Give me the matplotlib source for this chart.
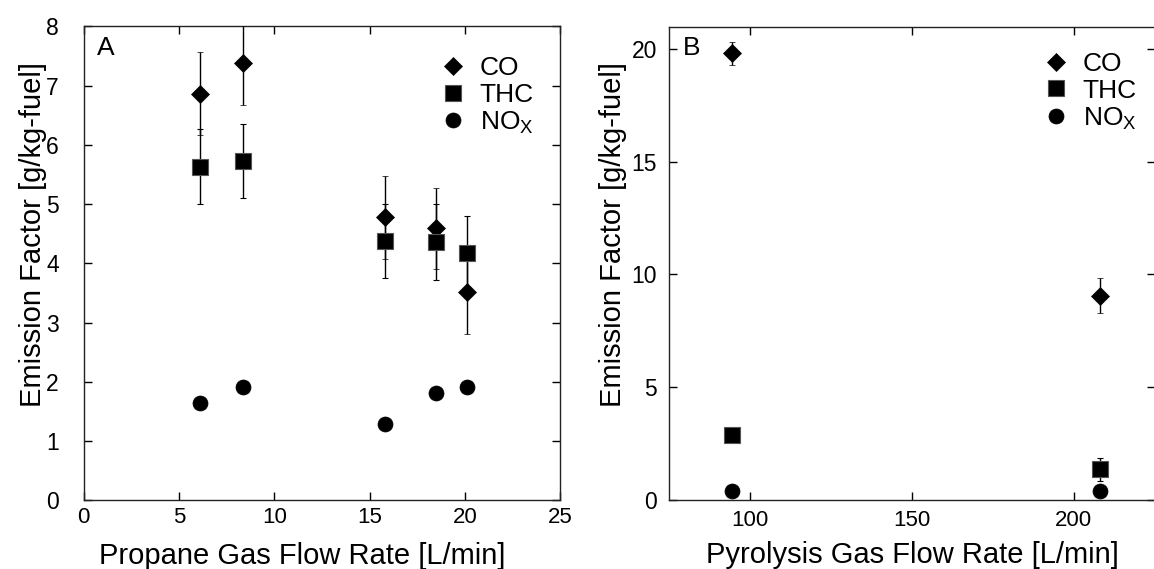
import matplotlib
matplotlib.use("Agg")
import matplotlib.pyplot as plt
from matplotlib.lines import Line2D

plt.rcParams['font.family'] = ['Liberation Sans', 'DejaVu Sans']
plt.rcParams['mathtext.fontset'] = 'custom'
plt.rcParams['mathtext.rm'] = 'Liberation Sans'
plt.rcParams['mathtext.it'] = 'Liberation Sans:italic'
plt.rcParams['mathtext.bf'] = 'Liberation Sans:bold'

# ---- Panel A data (propane) ----
propane_flow = [6.1, 8.35, 15.8, 18.5, 20.1]
co_a = [6.86, 7.38, 4.78, 4.59, 3.51]
co_a_err = [0.70, 0.71, 0.70, 0.69, 0.70]
thc_a = [5.63, 5.73, 4.38, 4.36, 4.17]
thc_a_err = [0.63, 0.62, 0.63, 0.64, 0.63]
nox_a = [1.64, 1.91, 1.29, 1.81, 1.91]

# ---- Panel B data (pyrolysis gas) ----
pyro_flow = [94.5, 208.0]
co_b = [19.81, 9.05]
co_b_err = [0.52, 0.77]
thc_b = [2.85, 1.34]
thc_b_err = [0.30, 0.52]
nox_b = [0.40, 0.40]

series_labels = ['CO', 'THC', r'NO$_\mathregular{X}$']
xticks_a = [0, 5, 10, 15, 20, 25]
yticks_a = [0, 1, 2, 3, 4, 5, 6, 7, 8]
xticks_b = [100, 150, 200]
yticks_b = [0, 5, 10, 15, 20]

fig = plt.figure(figsize=(11.54, 5.69), dpi=100)
ax1 = fig.add_axes([0.0725, 0.1204, 0.4129, 0.8334])
ax2 = fig.add_axes([0.5797, 0.1221, 0.4211, 0.8313])

XTICK_FS = 16
YTICK_FS = 16.5
LABEL_FS = 21
LEG_FS = 19

mk = dict(color='black', mfc='black', ls='none', ecolor='black',
          elinewidth=1.0, capsize=2.0, capthick=1.0)
diam = dict(marker='D', ms=8.8, mec='black', mew=0.5)
sq = dict(marker='s', ms=11.3, mec='#555555', mew=0.8)
circ = dict(marker='o', ms=10.8, mec='black', mew=0.5)


def style(ax, xpad, ypad):
    ax.tick_params(direction='in', length=6, width=1, top=True, right=True)
    ax.tick_params(axis='x', pad=xpad, labelsize=XTICK_FS)
    ax.tick_params(axis='y', pad=ypad, labelsize=YTICK_FS)
    for s in ax.spines.values():
        s.set_linewidth(1.0)
        s.set_color('#222222')


# Panel A
ax1.errorbar(propane_flow, co_a, yerr=co_a_err, **mk, **diam, zorder=3)
ax1.errorbar(propane_flow, thc_a, yerr=thc_a_err, **mk, **sq, zorder=3)
ax1.plot(propane_flow, nox_a, ls='none', color='black', **circ, zorder=3)
ax1.set_xlim(0, 25)
ax1.set_ylim(0, 8)
ax1.set_xticks(xticks_a)
ax1.set_yticks(yticks_a)
ax1.set_xlabel('Propane Gas Flow Rate [L/min]', fontsize=LABEL_FS)
ax1.set_ylabel('Emission Factor [g/kg-fuel]', fontsize=LABEL_FS)
ax1.xaxis.set_label_coords(0.458, -0.088)
ax1.yaxis.set_label_coords(-0.077, 0.56)
ax1.text(0.028, 0.955, 'A', transform=ax1.transAxes, fontsize=LEG_FS,
         va='center', ha='left')
style(ax1, 4.5, 18)

# Panel B
ax2.errorbar(pyro_flow, co_b, yerr=co_b_err, **mk, **diam, zorder=3)
ax2.errorbar(pyro_flow, thc_b, yerr=thc_b_err, **mk, **sq, zorder=3)
ax2.plot(pyro_flow, nox_b, ls='none', color='black', **circ, zorder=3)
ax2.set_xlim(75, 225)
ax2.set_ylim(0, 21)
ax2.set_xticks(xticks_b)
ax2.set_yticks(yticks_b)
ax2.set_xlabel('Pyrolysis Gas Flow Rate [L/min]', fontsize=LABEL_FS)
ax2.set_ylabel('Emission Factor [g/kg-fuel]', fontsize=LABEL_FS)
ax2.xaxis.set_label_coords(0.502, -0.088)
ax2.yaxis.set_label_coords(-0.0864, 0.56)
ax2.text(0.028, 0.955, 'B', transform=ax2.transAxes, fontsize=LEG_FS,
         va='center', ha='left')
style(ax2, 7.5, 8.5)

handles = [Line2D([], [], ls='none', color='black', **diam),
           Line2D([], [], ls='none', color='black', **sq),
           Line2D([], [], ls='none', color='black', **circ)]

for ax, anchor in ((ax1, (0.748, 0.937)), (ax2, (0.77, 0.946))):
    ax.legend(handles, series_labels, loc='upper left', bbox_to_anchor=anchor,
              frameon=False, fontsize=LEG_FS, handlelength=1.0,
              handletextpad=0.5, labelspacing=0.1, borderaxespad=0,
              borderpad=0)

fig.savefig('out.png', dpi=100)
